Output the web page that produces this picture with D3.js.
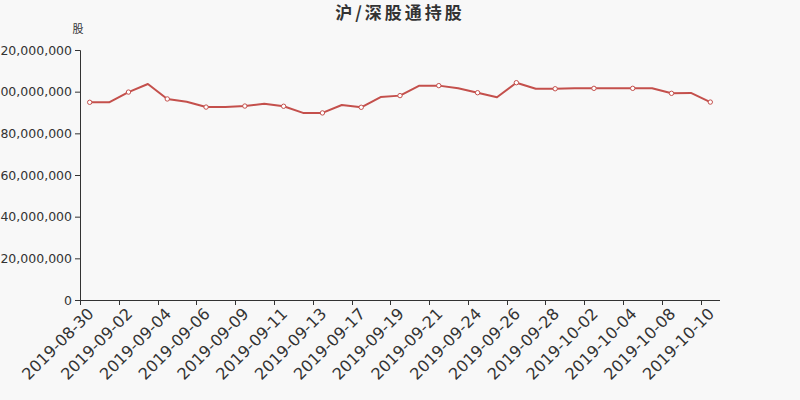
<!DOCTYPE html>
<html>
<head>
<meta charset="utf-8">
<script src="https://cdn.jsdelivr.net/npm/d3@7/dist/d3.min.js"></script>
<style>
  html, body { margin: 0; padding: 0; background: #f8f8f8; }
  svg { display: block; font-family: "DejaVu Sans", sans-serif; }
</style>
</head>
<body>
<svg id="chart" width="800" height="400"></svg>
<script>
const title = "沪/深股通持股";
const unitLabel = "股";
const dates = [
  "2019-08-30","2019-08-31","2019-09-02","2019-09-03","2019-09-04","2019-09-05","2019-09-06","2019-09-07",
  "2019-09-09","2019-09-10","2019-09-11","2019-09-12","2019-09-13","2019-09-16","2019-09-17","2019-09-18",
  "2019-09-19","2019-09-20","2019-09-21","2019-09-23","2019-09-24","2019-09-25","2019-09-26","2019-09-27",
  "2019-09-28","2019-09-30","2019-10-02","2019-10-03","2019-10-04","2019-10-07","2019-10-08","2019-10-09",
  "2019-10-10"
];
const holdings = [
  94900000, 94900000, 99800000, 103700000, 96500000, 95200000, 92600000, 92600000,
  93100000, 94200000, 93000000, 89800000, 89800000, 93600000, 92500000, 97400000,
  98100000, 102900000, 102900000, 101600000, 99500000, 97300000, 104300000, 101400000,
  101400000, 101600000, 101600000, 101600000, 101600000, 101600000, 99200000, 99400000,
  95000000
];
const yTicks = [0, 20000000, 40000000, 60000000, 80000000, 100000000, 120000000];

const svg = d3.select("#chart");
const m = { left: 80, right: 80, top: 50, bottom: 100 };
const W = 800, H = 400;
const x = d3.scaleBand().domain(dates).range([m.left, W - m.right]).paddingInner(0).paddingOuter(0);
const y = d3.scaleLinear().domain([0, 120000000]).range([H - m.bottom, m.top]);
const lineColor = "#c4504c";
const axisColor = "#333";

// Title
svg.append("text")
  .attr("x", 400).attr("y", 19)
  .attr("text-anchor", "middle")
  .attr("font-size", 17).attr("font-weight", "bold")
  .attr("letter-spacing", "3px")
  .attr("fill", "#333")
  .style("font-family", "'Noto Sans CJK SC', sans-serif")
  .text(title);

// Unit label
svg.append("text")
  .attr("x", 78).attr("y", 33)
  .attr("text-anchor", "middle")
  .attr("font-size", 11)
  .attr("fill", "#333")
  .style("font-family", "'Noto Sans CJK SC', sans-serif")
  .text(unitLabel);

// Y axis
const fmt = d3.format(",");
const yAxis = svg.append("g")
  .attr("transform", `translate(${m.left},0)`)
  .call(d3.axisLeft(y).tickValues(yTicks).tickFormat(fmt).tickSize(5).tickPadding(3));
yAxis.select(".domain").attr("stroke", axisColor).attr("stroke-width", 1);
yAxis.selectAll(".tick line").attr("stroke", axisColor);
yAxis.selectAll(".tick text").attr("fill", "#333").attr("font-size", 12.5)
  .style("font-family", "'DejaVu Sans', sans-serif");

// X axis
const tickDates = dates.filter((d, i) => i % 2 === 0);
const xAxisG = svg.append("g").attr("transform", `translate(0,${H - m.bottom})`);
xAxisG.append("line")
  .attr("x1", m.left).attr("x2", W - m.right)
  .attr("y1", 0.5).attr("y2", 0.5)
  .attr("stroke", axisColor);
xAxisG.selectAll("line.tk").data(tickDates).enter().append("line")
  .attr("class", "tk")
  .attr("x1", d => Math.round(x(d)) + 0.5).attr("x2", d => Math.round(x(d)) + 0.5)
  .attr("y1", 0).attr("y2", 5)
  .attr("stroke", axisColor);
xAxisG.selectAll("text").data(tickDates).enter().append("text")
  .attr("transform", d => `translate(${x(d) + x.bandwidth() / 2 - 3},${7}) rotate(-45)`)
  .attr("text-anchor", "end")
  .attr("dy", "0.7em")
  .attr("font-size", 16)
  .attr("fill", "#333")
  .text(d => d);

// Line
const cx = d => x(d) + x.bandwidth() / 2;
const line = d3.line().x((d, i) => cx(dates[i])).y(d => y(d));
svg.append("path")
  .datum(holdings)
  .attr("fill", "none")
  .attr("stroke", lineColor)
  .attr("stroke-width", 2)
  .attr("stroke-linejoin", "round")
  .attr("d", line);

// Markers on every other point
svg.selectAll("circle.pt")
  .data(holdings.map((v, i) => ({ v, i })).filter(d => d.i % 2 === 0))
  .enter().append("circle")
  .attr("class", "pt")
  .attr("cx", d => cx(dates[d.i]))
  .attr("cy", d => y(d.v))
  .attr("r", 2.2)
  .attr("fill", "#fff")
  .attr("stroke", lineColor)
  .attr("stroke-width", 1);
</script>
</body>
</html>
